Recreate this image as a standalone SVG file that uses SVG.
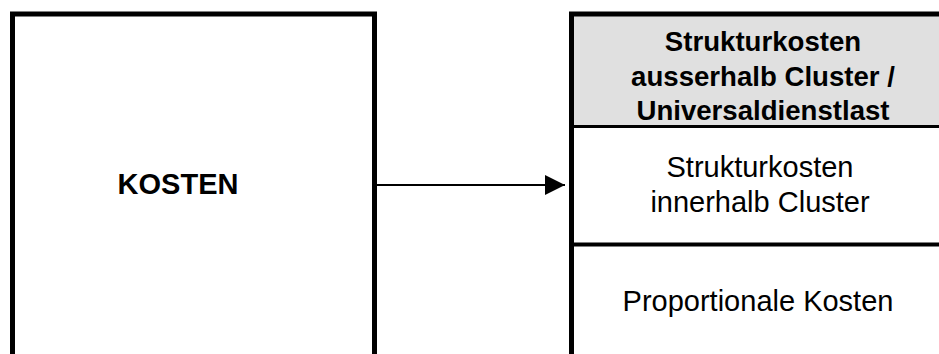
<svg xmlns="http://www.w3.org/2000/svg" width="939" height="354" viewBox="0 0 939 354">
<defs>
<style>
.box{fill:none;stroke:#000;stroke-width:5}
.t{font-family:"Liberation Sans",Arial,sans-serif;font-size:29px;fill:#000;text-anchor:middle}
.b{font-weight:bold}
.h{font-size:27.6px}
</style>
<marker id="ah" markerUnits="userSpaceOnUse" markerWidth="20" markerHeight="20" refX="20" refY="10" orient="auto">
<path d="M0,0 L20,10 L0,20 Z" fill="#000"/>
</marker>
</defs>
<rect width="939" height="354" fill="#fff"/>
<g id="kosten">
<path class="box" d="M12.5,360 V14 H374.5 V360"/>
<text class="t b" x="178" y="194">KOSTEN</text>
</g>
<g id="kostenblock">
<rect x="574" y="16" width="380" height="110" fill="#e0e0e0"/>
<path class="box" d="M571.5,360 V14 H945"/>
<line x1="574" y1="126.5" x2="945" y2="126.5" stroke="#000" stroke-width="3"/>
<line x1="574" y1="244.5" x2="945" y2="244.5" stroke="#000" stroke-width="4"/>
</g>
<g id="header">
<text class="t b h" x="763" y="51">Strukturkosten</text>
<text class="t b h" x="763" y="86">ausserhalb Cluster /</text>
<text class="t b h" x="763" y="120">Universaldienstlast</text>
</g>
<g id="innerhalb">
<text class="t" x="760" y="177">Strukturkosten</text>
<text class="t" x="760" y="212">innerhalb Cluster</text>
</g>
<g id="proportional">
<text class="t" x="758" y="311">Proportionale Kosten</text>
</g>
<g id="connectors">
<line x1="377" y1="185" x2="565" y2="185" stroke="#000" stroke-width="2" marker-end="url(#ah)"/>
</g>
</svg>
